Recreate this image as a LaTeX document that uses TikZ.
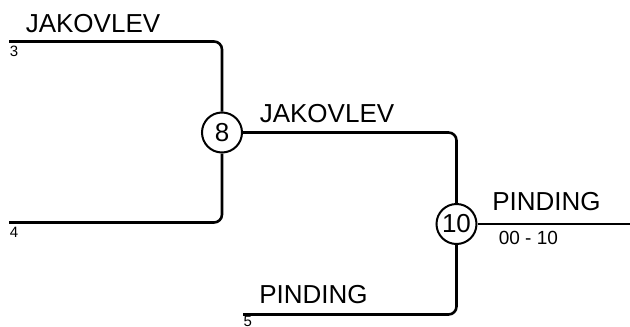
\documentclass[tikz,border=0pt]{standalone}
\usepackage{fontspec}
\setmainfont{Liberation Sans}
\usepackage{tikz}
\usetikzlibrary{positioning}
\tikzset{
  bracket/.style={
    x=1pt,y=-1pt,line width=2.6pt,
    every node/.style={inner sep=0pt,anchor=base west}
  },
  match/.style={
    circle,draw,line width=2pt,minimum size=40pt,anchor=center,
    font=\fontsize{26}{28}\selectfont
  },
  team/.style={font=\fontsize{26}{28}\selectfont},
  seed/.style={font=\fontsize{15}{17}\selectfont},
  score/.style={font=\fontsize{19}{21}\selectfont},
  slot edge/.style={rounded corners=8pt},
}
\begin{document}
\begin{tikzpicture}[bracket]
      \useasboundingbox (0,0) rectangle (630,327);
      \node[match] (m8) at (222,132.5) {8};
      \node[match] (m10) at (456.5,224) {10};
      \coordinate (p3) at (9,41.5);
      \coordinate (p4) at (9,222.5);
      \coordinate (p5) at (243,314.5);
      \coordinate (out) at (630,224);
      \node[team] (t3) at (24.5,32) {JAKOVLEV};
      \node[seed] (s3) at (8.5,56) {3};
      \node[seed] (s4) at (8.6,237) {4};
      \node[team] (t8) at (258.5,122) {JAKOVLEV};
      \node[team] (t5) at (258,303) {PINDING};
      \node[seed] (s5) at (242.3,326.5) {5};
      \node[team] (t10) at (491,210) {PINDING};
      \node[score] (r10) at (497.5,244) {00 - 10};
      \draw[slot edge] (p3) -| (m8);
      \draw[slot edge] (p4) -| (m8);
      \draw[slot edge] (m8) -| (m10);
      \draw[slot edge] (p5) -| (m10);
      \draw (m10) -- (out);
    \end{tikzpicture}
\end{document}
